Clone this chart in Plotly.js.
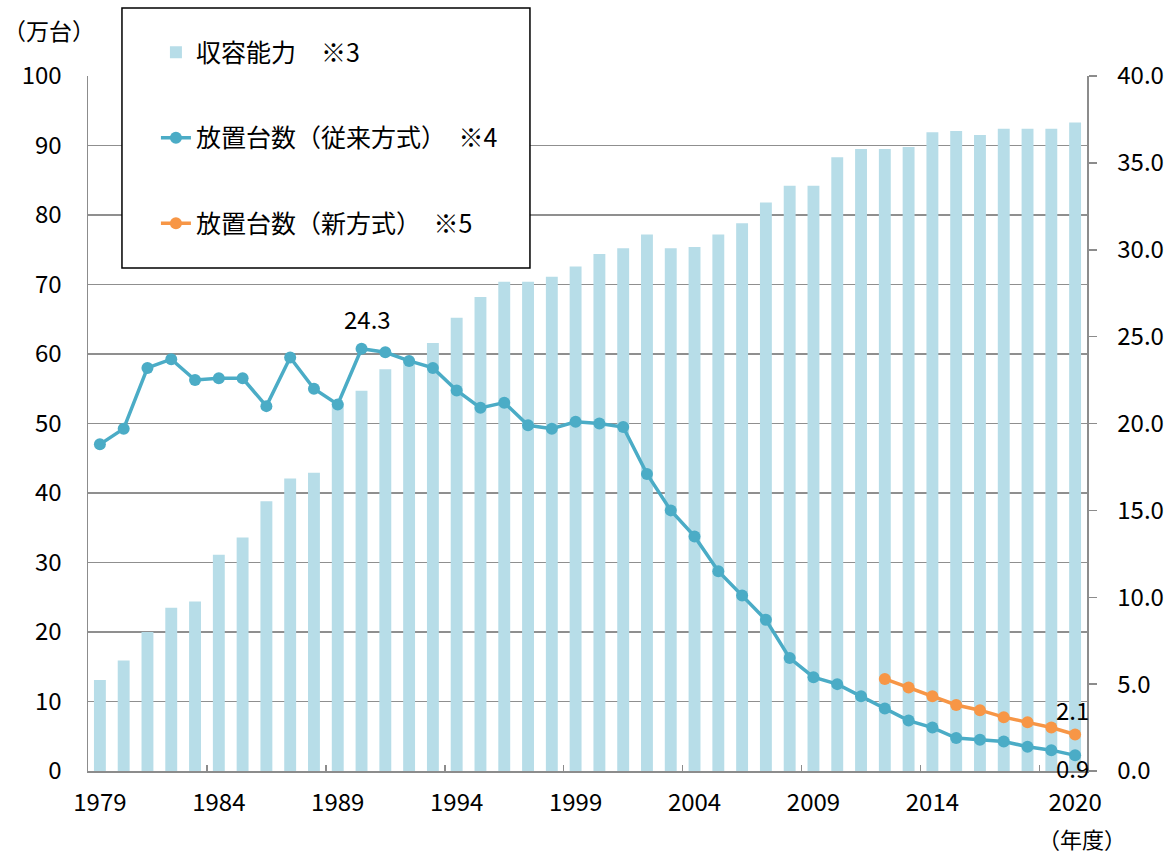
<!DOCTYPE html>
<html>
<head>
<meta charset="utf-8">
<script src="https://cdn.plot.ly/plotly-3.0.1.min.js"></script>
<style>html,body{margin:0;padding:0;background:#fff;}#chart{width:1167px;height:856px;}</style>
</head>
<body>
<div id="chart"></div>
<script>
// ---- data ----
const years = [1979,1980,1981,1982,1983,1984,1985,1986,1987,1988,1989,1990,1991,1992,1993,1994,1995,1996,1997,1998,1999,2000,2001,2002,2003,2004,2005,2006,2007,2008,2009,2010,2011,2012,2013,2014,2015,2016,2017,2018,2019,2020];
// 収容能力 (万台)
const capacity = [13.1,15.9,20.0,23.5,24.4,31.1,33.6,38.8,42.1,42.9,53.0,54.7,57.8,59.2,61.6,65.2,68.2,70.4,70.4,71.1,72.6,74.4,75.2,77.2,75.2,75.4,77.2,78.8,81.8,84.2,84.2,88.3,89.5,89.5,89.8,91.9,92.1,91.5,92.4,92.4,92.4,93.3];
// 放置台数(従来方式) (万台)
const abandonedOld = [18.8,19.7,23.2,23.7,22.5,22.6,22.6,21.0,23.8,22.0,21.1,24.3,24.1,23.6,23.2,21.9,20.9,21.2,19.9,19.7,20.1,20.0,19.8,17.1,15.0,13.5,11.5,10.1,8.7,6.5,5.4,5.0,4.3,3.6,2.9,2.5,1.9,1.8,1.7,1.4,1.2,0.9];
// 放置台数(新方式) (万台)
const yearsNew = [2012,2013,2014,2015,2016,2017,2018,2019,2020];
const abandonedNew = [5.3,4.8,4.3,3.8,3.5,3.1,2.8,2.5,2.1];
// tick labels
const xTickVals = [1979,1984,1989,1994,1999,2004,2009,2014,2020];
const xTickText = ['1979','1984','1989','1994','1999','2004','2009','2014','2020'];
const xMinorTicks = [1983.5,1988.5,1993.5,1998.5,2003.5,2008.5,2013.5,2018.5];
const seriesNames = ['収容能力\u3000※3','放置台数（従来方式）\u3000※4','放置台数（新方式）\u3000※5'];

const FONT = '"Noto Sans CJK JP", "Noto Sans", sans-serif';
const cBar = '#B7DDE8', cBlue = '#4BACC6', cOrange = '#F79646';
const gridC = '#8f8f8f', axC = '#8c8c8c';

const traces = [
  {type:'bar', x:years, y:capacity, name:seriesNames[0], legendgroup:'a',
   marker:{color:cBar, line:{width:0}}, width:0.5, xaxis:'x', yaxis:'y', hoverinfo:'x+y'},
  {type:'scatter', mode:'lines+markers', x:years, y:abandonedOld, name:seriesNames[1], legendgroup:'b',
   line:{color:cBlue, width:3.5}, marker:{color:cBlue, size:12}, xaxis:'x', yaxis:'y2'},
  {type:'scatter', mode:'lines+markers', x:yearsNew, y:abandonedNew, name:seriesNames[2], legendgroup:'c',
   line:{color:cOrange, width:3.5}, marker:{color:cOrange, size:12}, xaxis:'x', yaxis:'y2'}
];

const iMax = abandonedOld.indexOf(Math.max(...abandonedOld));
const last = years.length - 1;
const lastN = yearsNew.length - 1;

const layout = {
  width:1167, height:856,
  margin:{l:88, r:80, t:76, b:85, autoexpand:false},
  paper_bgcolor:'#fff', plot_bgcolor:'#fff',
  font:{family:FONT, size:24, color:'#000'},
  showlegend:true,
  bargap:0.5,
  xaxis:{
    range:[1978.5, 2020.5], tickmode:'array', tickvals:xTickVals, ticktext:xTickText,
    ticks:'', showgrid:false, zeroline:false, showline:true, linecolor:axC, linewidth:1.5,
    tickfont:{family:FONT, size:24}, ticklabelstandoff:10,
    minor:{tickmode:'array', tickvals:xMinorTicks, ticks:'inside', ticklen:6, tickcolor:axC, tickwidth:1.5, showgrid:false}
  },
  yaxis:{
    range:[0,100], tickmode:'linear', tick0:0, dtick:10, ticks:'', showgrid:true, gridcolor:gridC, gridwidth:1.5,
    zeroline:false, showline:true, linecolor:axC, linewidth:1.5, tickfont:{family:FONT, size:24},
    ticklabelstandoff:20
  },
  yaxis2:{
    range:[0,40], overlaying:'y', side:'right', tickmode:'linear', tick0:0, dtick:5, tickformat:'.1f',
    ticks:'outside', ticklen:8, tickcolor:axC, tickwidth:1.5, showgrid:false, zeroline:false,
    showline:true, linecolor:axC, linewidth:1.5, tickfont:{family:FONT, size:24}, ticklabelstandoff:16
  },
  legend:{
    x:0.068, xanchor:'left', y:1.067, yanchor:'top', traceorder:'grouped', tracegroupgap:50,
    bgcolor:'rgba(0,0,0,0)', borderwidth:0, font:{family:FONT, size:25, color:'#000'}
  },
  shapes:[
    {type:'rect', xref:'paper', yref:'paper', x0:0.034, x1:0.4424, y0:0.7237, y1:1.0978,
     fillcolor:'#fff', line:{color:'#000', width:1.5}, layer:'above'}
  ],
  annotations:[
    {xref:'paper', yref:'paper', x:-0.0395, y:1.066, xanchor:'center', yanchor:'middle', showarrow:false,
     text:'（万台）', font:{family:FONT, size:23}},
    {xref:'paper', yref:'paper', x:0.995, y:-0.097, xanchor:'center', yanchor:'middle', showarrow:false,
     text:'（年度）', font:{family:FONT, size:22}},
    {xref:'x', yref:'y2', x:years[iMax], y:abandonedOld[iMax], text:abandonedOld[iMax].toFixed(1),
     showarrow:false, xshift:6, yshift:30, font:{family:FONT, size:24}},
    {xref:'x', yref:'y2', x:yearsNew[lastN], y:abandonedNew[lastN], text:abandonedNew[lastN].toFixed(1),
     showarrow:false, xshift:-3, yshift:25, font:{family:FONT, size:24}},
    {xref:'x', yref:'y2', x:years[last], y:abandonedOld[last], text:abandonedOld[last].toFixed(1),
     showarrow:false, xshift:-3, yshift:-12, font:{family:FONT, size:24}}
  ]
};

Plotly.newPlot('chart', traces, layout, {displayModeBar:false, staticPlot:true});
</script>
</body>
</html>
